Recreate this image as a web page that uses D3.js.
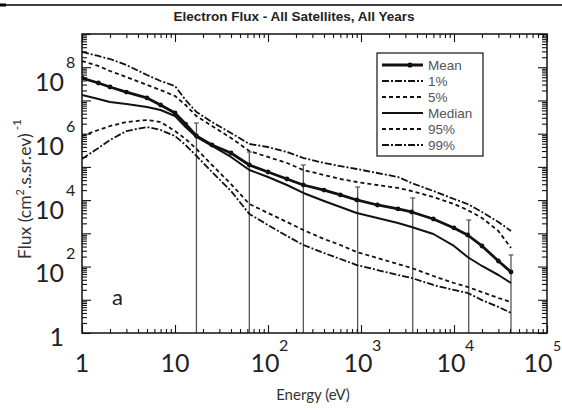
<!DOCTYPE html>
<html><head><meta charset="utf-8">
<script src="https://cdn.jsdelivr.net/npm/d3@7"></script>
<style>body{margin:0;background:#fff}svg{display:block}</style>
</head><body><svg id="c" width="562" height="410"></svg>
<script>
const energy = [1,1.5,2,3,5,7,10,13,17,25,40,63,100,160,240,400,600,900,1500,2500,3500,6000,10000,14000,20000,30000,41000];
const p99 = [2.9e8,2.18e8,1.77e8,1.17e8,5.83e7,3.85e7,2.72e7,1.03e7,4.49e6,2.24e6,1.05e6,4.89e5,3.97e5,2.81e5,1.85e5,1.31e5,1.06e5,8.64e4,6.55e4,4.97e4,3.27e4,1.88e4,1.08e4,7.64e3,4.39e3,2.19e3,1.18e3];
const p95 = [1.54e8,1.09e8,7.69e7,5.08e7,2.92e7,2.06e7,1.36e7,7.29e6,3.40e6,1.70e6,7.41e5,3.01e5,1.99e5,1.31e5,8.05e4,5.70e4,4.32e4,3.51e4,2.85e4,2.32e4,1.88e4,1.24e4,7.64e3,5.04e3,2.90e3,1.18e3,362];
const mean = [4.74e7,3.35e7,2.54e7,1.79e7,1.19e7,7.29e6,4.19e6,1.95e6,8.51e5,4.56e5,2.62e5,1.14e5,7.02e4,4.32e4,2.85e4,2.01e4,1.43e4,1.01e4,7.13e3,5.41e3,4.39e3,2.70e3,1.45e3,891,416,147,68.6];
const median = [1.46e7,1.11e7,8.97e6,7.82e6,6.35e6,5.15e6,3.40e6,1.59e6,7.94e5,4.26e5,1.99e5,8.05e4,4.97e4,2.85e4,1.64e4,9.40e3,6.21e3,4.09e3,2.90e3,2.05e3,1.55e3,955,416,194,104,55.7,32];
const p05 = [8.51e5,1.29e6,1.70e6,2.24e6,2.58e6,2.24e6,1.20e6,6.92e5,3.46e5,1.14e5,3.05e4,7.64e3,4.09e3,2.19e3,1.26e3,675,446,274,181,119,90.6,52,32,24.3,17.1,11.3,8.6];
const p01 = [1.73e5,3.71e5,6.44e5,1.20e6,1.59e6,1.29e6,8.51e5,4.56e5,2.13e5,7.02e4,1.88e4,3.82e3,1.78e3,832,446,256,169,111,78.7,55.7,45.3,27.9,19.7,16,9.8,6.1,4.0];
const errEnergy = [17,63,240,920,3600,14400,41000];
const errTop = [2.09e6,2.81e5,1.14e5,2.48e4,1.16e4,2.52e3,223];
const errBottom = [0.5,0.5,0.5,0.5,0.5,0.5,0.5];
const xTickLabels = [[1,""],[10,""],[100,"2"],[1000,"3"],[10000,"4"],[100000,"5"]];
const yTickLabels = [[1,""],[100,"2"],[10000,"4"],[1e6,"6"],[1e8,"8"]];
const legendLabels = ["Mean","1%","5%","Median","95%","99%"];

const svg = d3.select("#c");
const L=82,R=547,T=34,B=333;
const x = d3.scaleLog().domain([1,1e5]).range([L,R]);
const y = d3.scaleLog().domain([1,1e9]).range([B,T]);
// hand-placed label positions in the original figure
const yLab = d3.scaleLog().domain([1,1e8]).range([337,82]);

svg.append("line").attr("x1",0).attr("x2",562).attr("y1",5).attr("y2",5).attr("stroke","#000").attr("stroke-width",1.3);
svg.append("line").attr("x1",0).attr("x2",6).attr("y1",5).attr("y2",5).attr("stroke","#000").attr("stroke-width",3);

svg.append("text").attr("x",294).attr("y",21).attr("text-anchor","middle")
  .attr("font-family","Liberation Sans, Arial, sans-serif").attr("font-weight","bold").attr("font-size",13.5)
  .attr("fill","#222").text("Electron Flux - All Satellites, All Years");

svg.append("clipPath").attr("id","clip").append("rect").attr("x",L).attr("y",T).attr("width",R-L).attr("height",B-T);
const plot = svg.append("g").attr("clip-path","url(#clip)");

// error bars
errEnergy.forEach((e,i)=>{
  plot.append("line").attr("x1",x(e)).attr("x2",x(e)).attr("y1",y(errTop[i])).attr("y2",y(errBottom[i]))
    .attr("stroke","#555").attr("stroke-width",1.3);
  plot.append("line").attr("x1",x(e)-2.5).attr("x2",x(e)+2.5).attr("y1",y(errTop[i])).attr("y2",y(errTop[i]))
    .attr("stroke","#555").attr("stroke-width",1.2);
});

const styles = {
  Mean:{data:mean,w:2.8,dash:null},
  "1%":{data:p01,w:1.8,dash:"7,2,2,2"},
  "5%":{data:p05,w:1.8,dash:"4,3"},
  Median:{data:median,w:2,dash:null},
  "95%":{data:p95,w:1.8,dash:"4,3"},
  "99%":{data:p99,w:1.8,dash:"7,2,2,2"}
};
const line = d3.line().x(d=>x(d[0])).y(d=>y(d[1]));
legendLabels.forEach(k=>{
  const s = styles[k];
  plot.append("path").attr("d",line(energy.map((e,i)=>[e,s.data[i]])))
    .attr("fill","none").attr("stroke","#111").attr("stroke-width",s.w)
    .attr("stroke-dasharray",s.dash).attr("stroke-linejoin","round");
});
plot.selectAll("circle.m").data(energy.map((e,i)=>[e,mean[i]])).enter().append("circle")
  .attr("cx",d=>x(d[0])).attr("cy",d=>y(d[1])).attr("r",2.4).attr("fill","#111");

// frame and ticks
svg.append("rect").attr("x",L).attr("y",T).attr("width",R-L).attr("height",B-T).attr("fill","none").attr("stroke","#111").attr("stroke-width",1.5);
const fmt = ()=>"";
const xt = x.ticks(); const yt = y.ticks();
const isMajor = v => Math.abs(Math.log10(v)-Math.round(Math.log10(v)))<1e-6;
function axisTicks(g){ g.selectAll(".domain").remove(); g.selectAll("text").remove(); g.selectAll("line").attr("stroke","#111").attr("stroke-width",1.1); }
svg.append("g").attr("transform",`translate(0,${B})`).call(d3.axisTop(x).tickValues(xt).tickFormat(fmt).tickSizeInner(4)).call(axisTicks)
  .selectAll(".tick line").attr("y2",d=>isMajor(d)?-8:-4);
svg.append("g").attr("transform",`translate(0,${T})`).call(d3.axisBottom(x).tickValues(xt).tickFormat(fmt)).call(axisTicks)
  .selectAll(".tick line").attr("y2",d=>isMajor(d)?8:4);
svg.append("g").attr("transform",`translate(${L},0)`).call(d3.axisRight(y).tickValues(yt).tickFormat(fmt)).call(axisTicks)
  .selectAll(".tick line").attr("x2",d=>isMajor(d)?9:5);
svg.append("g").attr("transform",`translate(${R},0)`).call(d3.axisLeft(y).tickValues(yt).tickFormat(fmt)).call(axisTicks)
  .selectAll(".tick line").attr("x2",d=>isMajor(d)?-9:-5);

const lab = "Lato, Carlito, sans-serif";
// y labels
yTickLabels.forEach(([v,ex])=>{
  const cy = yLab(v);
  svg.append("text").attr("x",64).attr("y",cy+9).attr("text-anchor","end").attr("font-family",lab).attr("font-size",25).attr("fill","#222")
    .text(ex===""?"1":"10");
  if(ex!=="") svg.append("text").attr("x",66).attr("y",cy-14).attr("font-family",lab).attr("font-size",16).attr("fill","#222").text(ex);
});
// x labels
xTickLabels.forEach(([v,ex])=>{
  const last = v===1e5;
  const cx = x(v) - (ex===""?0:3) - (last?6:0);
  svg.append("text").attr("x",cx).attr("y",372).attr("text-anchor","middle").attr("font-family",lab).attr("font-size",25).attr("fill","#222")
    .text(v===1?"1":"10");
  if(ex!=="") svg.append("text").attr("x",last?553:cx+14).attr("y",351).attr("font-family",lab).attr("font-size",last?14:16).attr("fill","#222").text(ex);
});

svg.append("text").attr("x",313).attr("y",400).attr("text-anchor","middle").attr("font-family",lab).attr("font-size",15).attr("fill","#333").text("Energy (eV)");

const yt2 = svg.append("text").attr("transform","translate(31,189) rotate(-90)").attr("text-anchor","middle")
  .attr("font-family",lab).attr("font-size",17.5).attr("fill","#333");
yt2.append("tspan").text("Flux (cm");
yt2.append("tspan").attr("dy",-7).attr("font-size",11).text("2");
yt2.append("tspan").attr("dy",7).text(".s.sr.ev)");
yt2.append("tspan").attr("dy",-10).attr("font-size",12).text(" -1");

svg.append("text").attr("x",112).attr("y",305).attr("font-family",lab).attr("font-size",22).attr("fill","#222").text("a");

// legend
const lg = svg.append("g");
lg.append("rect").attr("x",377).attr("y",53).attr("width",106).attr("height",103).attr("fill","#fff").attr("stroke","#111").attr("stroke-width",1.2);
legendLabels.forEach((k,i)=>{
  const yy = 65 + i*16;
  const s = styles[k];
  lg.append("line").attr("x1",382).attr("x2",423).attr("y1",yy).attr("y2",yy).attr("stroke","#111")
    .attr("stroke-width",k==="Mean"?2.8:2).attr("stroke-dasharray",s.dash);
  if(k==="Mean") lg.append("circle").attr("cx",410).attr("cy",yy).attr("r",2.6).attr("fill","#111");
  lg.append("text").attr("x",428).attr("y",yy+4.5).attr("font-family","Liberation Sans, Arial, sans-serif").attr("font-size",13.5).attr("fill","#555").text(k);
});
</script></body></html>
